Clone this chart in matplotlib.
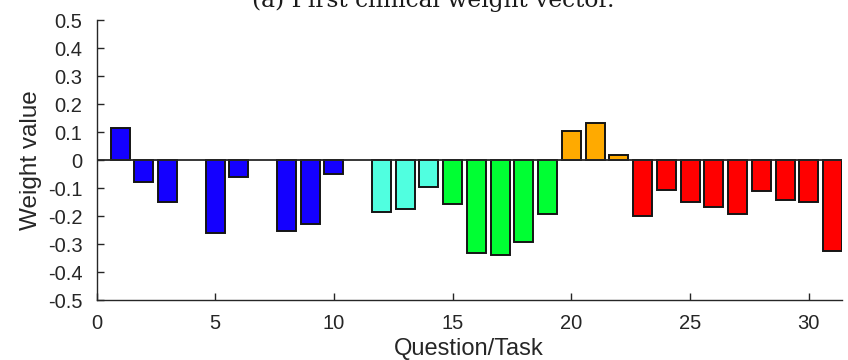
import matplotlib
matplotlib.use("Agg")
import matplotlib.pyplot as plt
import numpy as np

# Question/task indices and the weight assigned to each
questions = [1, 2, 3, 5, 6, 8, 9, 10,
             12, 13, 14,
             15, 16, 17, 18, 19,
             20, 21, 22,
             23, 24, 25, 26, 27, 28, 29, 30, 31]
weights = [0.113, -0.080, -0.149, -0.262, -0.060, -0.252, -0.227, -0.050,
           -0.187, -0.174, -0.098,
           -0.158, -0.331, -0.338, -0.294, -0.194,
           0.105, 0.132, 0.019,
           -0.199, -0.107, -0.150, -0.168, -0.193, -0.110, -0.144, -0.149, -0.325]
# Group of each question (determines bar colour)
groups = ["A"] * 8 + ["B"] * 3 + ["C"] * 5 + ["D"] * 3 + ["E"] * 9
group_colors = {"A": "#1400ff", "B": "#50ffe0", "C": "#00ff33",
                "D": "#ffaa00", "E": "#ff0000"}

title_text = "(a) First clinical weight vector."
x_label = "Question/Task"
y_label = "Weight value"
x_ticks = [0, 5, 10, 15, 20, 25, 30]
y_ticks = [-0.5, -0.4, -0.3, -0.2, -0.1, 0, 0.1, 0.2, 0.3, 0.4, 0.5]
y_ticklabels = ["-0.5", "-0.4", "-0.3", "-0.2", "-0.1", "0",
                "0.1", "0.2", "0.3", "0.4", "0.5"]

W, H = 848, 360
fig = plt.figure(figsize=(W / 100, H / 100), dpi=100)
ax = fig.add_axes([96.5 / W, 60 / H, (842 - 96.5) / W, 280 / H])

colors = [group_colors[g] for g in groups]
ax.bar(questions, weights, width=0.8, color=colors, edgecolor="#141414",
       linewidth=1.4, zorder=2)
ax.axhline(0, color="#262626", linewidth=1.3, zorder=3)

ax.set_xlim(0, 31.4)
ax.set_ylim(-0.5, 0.5)
ax.set_xticks(x_ticks)
ax.set_yticks(y_ticks)
ax.set_yticklabels(y_ticklabels)

for s in ["top", "right"]:
    ax.spines[s].set_visible(False)
for s in ["left", "bottom"]:
    ax.spines[s].set_color("#262626")
    ax.spines[s].set_linewidth(1.0)

ax.tick_params(direction="in", length=5, width=1.0, color="#262626",
               labelsize=14.5, labelcolor="#262626")
ax.tick_params(axis="y", pad=10)
ax.tick_params(axis="x", pad=10)
for lab in ax.get_xticklabels() + ax.get_yticklabels():
    lab.set_family("Liberation Sans")

ax.set_xlabel(x_label, fontsize=17, family="Liberation Sans",
              color="#262626", labelpad=4)
ax.set_ylabel(y_label, fontsize=17.5, family="Liberation Sans",
              color="#262626", labelpad=4)

fig.text(433 / W, 1 - 7 / H, title_text, ha="center", va="baseline",
         fontsize=16.8, family="DejaVu Serif", color="#1a1a1a")

fig.savefig("out.png", dpi=100)
